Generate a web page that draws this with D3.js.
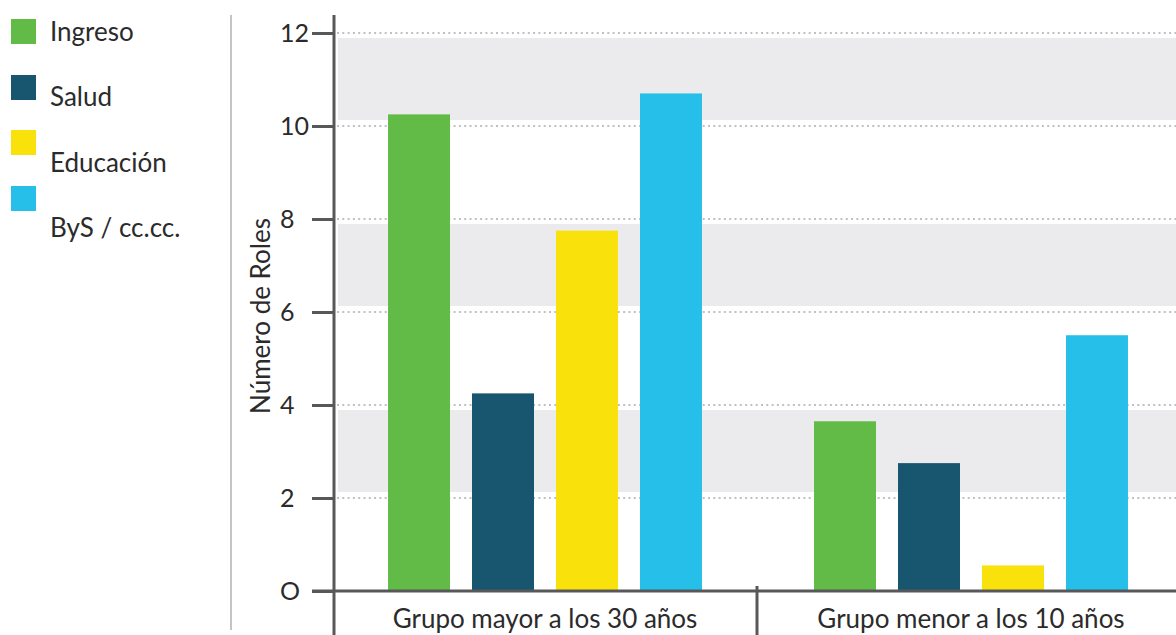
<!DOCTYPE html>
<html>
<head>
<meta charset="utf-8">
<script src="https://cdn.jsdelivr.net/npm/d3@7"></script>
<style>
  html, body { margin: 0; padding: 0; background: #fff; }
  svg { display: block; font-family: Lato, "Noto Sans", sans-serif; }
</style>
</head>
<body>
<svg id="chart" width="1176" height="635"></svg>
<script>
// Groups, series and values (number of roles)
const groups = ["Grupo mayor a los 30 años", "Grupo menor a los 10 años"];
const series = ["Ingreso", "Salud", "Educación", "ByS / cc.cc."];
const colors = ["#62bb46", "#18566f", "#f9e20c", "#25bfea"];
const mayorValues = [10.25, 4.25, 7.75, 10.7];
const menorValues = [3.65, 2.75, 0.55, 5.5];
const tickValues = [0, 2, 4, 6, 8, 10, 12];
const tickLabels = ["O", "2", "4", "6", "8", "10", "12"];
const yTitle = "Número de Roles";

const valuesByGroup = [mayorValues, menorValues];
const data = groups.map((g, gi) => ({
  group: g,
  bars: series.map((s, si) => ({ series: s, value: valuesByGroup[gi][si] }))
}));

const svg = d3.select("#chart");
const axisColor = "#58585a";
const textColor = "#2b2b2b";

const plotLeft = 334, plotRight = 1176;
const y = d3.scaleLinear().domain([0, 12]).range([591, 33]);
const x0 = d3.scaleBand().domain(groups).range([332, 1184]).padding(0);
const x1 = d3.scaleBand().domain(series).range([0, x0.bandwidth()])
  .paddingInner(0.262).paddingOuter(0.667);
const color = d3.scaleOrdinal().domain(series).range(colors);

// Alternating shaded bands
const bandPairs = [[10, 12], [6, 8], [2, 4]];
svg.append("g").selectAll("rect").data(bandPairs).join("rect")
  .attr("x", plotLeft + 4)
  .attr("width", plotRight - plotLeft - 4)
  .attr("y", d => y(d[1]) + 5)
  .attr("height", d => y(d[0]) - y(d[1]) - 11)
  .attr("fill", "#ebebed");

// Dotted gridlines
svg.append("g").selectAll("line").data(tickValues.filter(t => t > 0)).join("line")
  .attr("x1", plotLeft + 3).attr("x2", plotRight)
  .attr("y1", d => y(d)).attr("y2", d => y(d))
  .attr("stroke", "#c0c0c2").attr("stroke-width", 2)
  .attr("stroke-dasharray", "2 3.3");

// Bars
const gGroups = svg.append("g").selectAll("g").data(data).join("g")
  .attr("transform", d => `translate(${x0(d.group)},0)`);
gGroups.selectAll("rect").data(d => d.bars).join("rect")
  .attr("x", d => x1(d.series))
  .attr("width", x1.bandwidth())
  .attr("y", d => y(d.value))
  .attr("height", d => y(0) - y(d.value))
  .attr("fill", d => color(d.series));

// Y axis (labels left-aligned in a column)
const yAxis = d3.axisLeft(y)
  .tickValues(tickValues)
  .tickFormat((d, i) => tickLabels[i])
  .tickSize(22)
  .tickPadding(6);
const gy = svg.append("g").attr("transform", `translate(${plotLeft},0)`).call(yAxis);
gy.attr("font-family", null).attr("font-size", null);
gy.select(".domain").remove();
gy.selectAll(".tick line").attr("stroke", axisColor).attr("stroke-width", 3);
gy.selectAll(".tick text")
  .attr("x", -54)
  .attr("text-anchor", "start")
  .attr("fill", textColor)
  .style("font-size", "25px");

// Axis lines
svg.append("line")
  .attr("x1", plotLeft).attr("x2", plotLeft)
  .attr("y1", 15).attr("y2", 635)
  .attr("stroke", axisColor).attr("stroke-width", 3);
svg.append("line")
  .attr("x1", plotLeft - 22).attr("x2", plotRight)
  .attr("y1", y(0)).attr("y2", y(0))
  .attr("stroke", axisColor).attr("stroke-width", 3);

// Group separator on the x axis
const sepX = x0(groups[1]) - 1;
svg.append("line")
  .attr("x1", sepX).attr("x2", sepX)
  .attr("y1", y(0) - 5).attr("y2", 635)
  .attr("stroke", axisColor).attr("stroke-width", 3);

// Group labels
svg.append("g").selectAll("text").data(groups).join("text")
  .attr("x", d => x0(d) + x0.bandwidth() / 2)
  .attr("y", 628)
  .attr("text-anchor", "middle")
  .attr("fill", textColor)
  .style("font-size", "26px")
  .text(d => d);

// Y axis title
svg.append("text")
  .attr("transform", `translate(270,316) rotate(-90)`)
  .attr("text-anchor", "middle")
  .attr("fill", textColor)
  .style("font-size", "26px")
  .text(yTitle);

// Legend divider
svg.append("line")
  .attr("x1", 231).attr("x2", 231)
  .attr("y1", 15).attr("y2", 630)
  .attr("stroke", "#b0b0b0").attr("stroke-width", 1.5);

// Legend
const swatchY = [19, 75, 130, 186];
const labelY = [41, 106, 172, 237];
const legend = svg.append("g").selectAll("g").data(series).join("g");
legend.append("rect")
  .attr("x", 11).attr("y", (d, i) => swatchY[i])
  .attr("width", 25).attr("height", 25)
  .attr("fill", d => color(d));
legend.append("text")
  .attr("x", 50).attr("y", (d, i) => labelY[i])
  .attr("fill", textColor)
  .style("font-size", "26px")
  .text(d => d);
</script>
</body>
</html>
